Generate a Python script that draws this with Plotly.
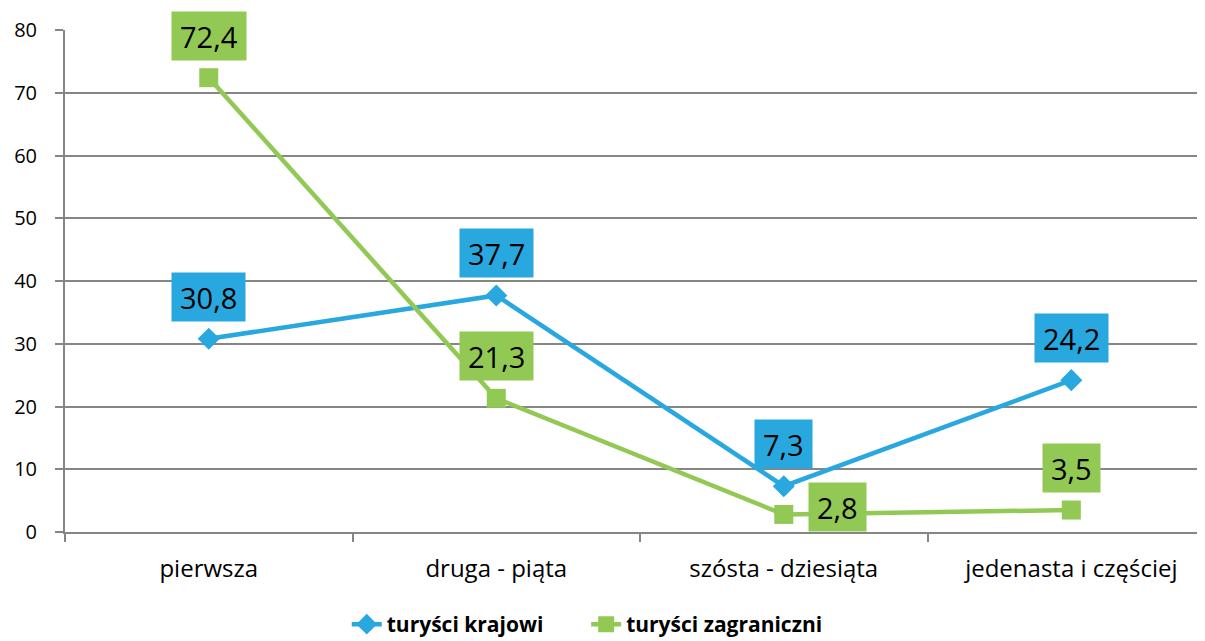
import plotly.graph_objects as go

categories = ["pierwsza", "druga - piąta", "szósta - dziesiąta", "jedenasta i częściej"]
krajowi = [30.8, 37.7, 7.3, 24.2]
zagraniczni = [72.4, 21.3, 2.8, 3.5]
y_ticks = [0, 10, 20, 30, 40, 50, 60, 70, 80]

BLUE = "#29A8E0"
GREEN = "#92C955"
FONT = "Open Sans"

def fmt(v):
    return f"{v:.1f}".replace(".", ",")

fig = go.Figure()
fig.add_trace(go.Scatter(
    x=categories, y=krajowi, name="turyści krajowi", mode="lines+markers",
    line=dict(color=BLUE, width=4.5),
    marker=dict(symbol="diamond", size=17, color=BLUE),
    legend="legend",
))
fig.add_trace(go.Scatter(
    x=categories, y=zagraniczni, name="turyści zagraniczni", mode="lines+markers",
    line=dict(color=GREEN, width=4.5),
    marker=dict(symbol="square", size=19, color=GREEN),
    legend="legend2",
))

annotations = []
for c, v in zip(categories, krajowi):
    annotations.append(dict(x=c, y=v, xref="x", yref="y", text=fmt(v), showarrow=False,
                            yshift=42, bgcolor=BLUE, borderpad=8, height=32,
                            font=dict(family=FONT, size=29, color="black")))
for i, (c, v) in enumerate(zip(categories, zagraniczni)):
    if i == 2:
        xs, ys = 54, 7
    else:
        xs, ys = 0, 42
    annotations.append(dict(x=c, y=v, xref="x", yref="y", text=fmt(v), showarrow=False,
                            xshift=xs, yshift=ys, bgcolor=GREEN, borderpad=8, height=32,
                            font=dict(family=FONT, size=29, color="black")))

legend_common = dict(orientation="h", xanchor="left", xref="container",
                     y=0.026, yanchor="middle", yref="container",
                     font=dict(family=FONT, size=21, color="black", weight="bold"),
                     itemwidth=30, bgcolor="rgba(0,0,0,0)")

fig.update_layout(
    width=1197, height=633,
    margin=dict(l=57, r=0, t=22, b=109, autoexpand=False),
    paper_bgcolor="white", plot_bgcolor="white",
    font=dict(family=FONT, color="black"),
    annotations=annotations,
    showlegend=True,
    legend=dict(x=0.283, **legend_common),
    legend2=dict(x=0.483, **legend_common),
    xaxis=dict(type="category", range=[-0.5, 3.465], tickson="boundaries",
               ticks="outside", ticklen=8, tickcolor="#868686", tickwidth=1.5,
               showline=True, linecolor="#868686", linewidth=2,
               showgrid=False, tickfont=dict(size=24, family=FONT),
               ticklabelstandoff=14, automargin=False),
    yaxis=dict(range=[0, 80], tickvals=y_ticks, ticks="outside", ticklen=8,
               tickcolor="#868686", tickwidth=1.5,
               showline=True, linecolor="#868686", linewidth=2,
               showgrid=True, gridcolor="#868686", gridwidth=1.5,
               zeroline=False, tickfont=dict(size=20, family=FONT),
               ticklabelstandoff=14, automargin=False),
)

fig.write_html("out.html")
